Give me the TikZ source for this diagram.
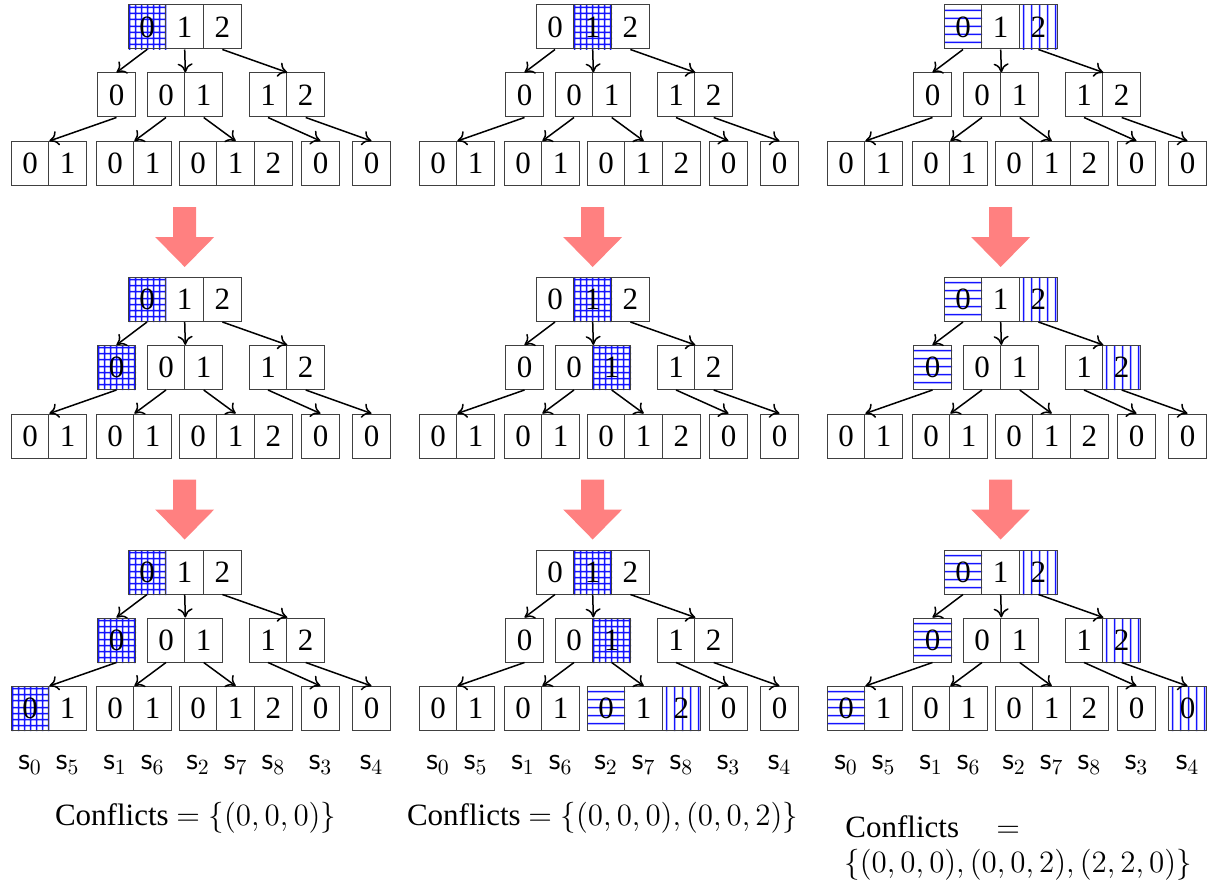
\RequirePackage{fix-cm}
\documentclass[tikz,border=0pt]{standalone}
\usepackage[no-math]{fontspec}
\setmainfont{Liberation Serif}
\usetikzlibrary{arrows.meta,calc}
\pgfdeclarelayer{background}
\pgfsetlayers{background,main}
\definecolor{hatchblue}{RGB}{20,20,255}

\tikzset{
  fs/.style={font=\fontsize{15.5}{18.5}\selectfont},
  cell/.style={draw=black!75, line width=0.5pt, minimum width=18.85pt, minimum height=22pt,
    inner sep=0pt, fs},
  edge/.style={-{To[length=4.5pt,width=7.5pt]}, line width=0.75pt, black},
  bigarrow/.style={fill=red!50, draw=none},
  slabel/.style={fs, inner sep=0pt},
  conf/.style={fs, inner sep=0pt},
  hatchfill/.style={fill=hatchblue, draw=none},
}

\newcommand\cellat[4]{\node[cell] (#1) at (#2,#3) {#4};}

% pixel box of a cell: \hL \hT \hR \hB
\newcommand\getcell[1]{%
  \path let \p1=(#1.north west), \p2=(#1.south east) in
  \pgfextra{\pgfmathtruncatemacro\tmpa{round(2*\x1)}\xdef\hL{\tmpa}%
            \pgfmathtruncatemacro\tmpa{round(-2*\y1)}\xdef\hT{\tmpa}%
            \pgfmathtruncatemacro\tmpa{round(2*\x2)}\xdef\hR{\tmpa}%
            \pgfmathtruncatemacro\tmpa{round(-2*\y2)}\xdef\hB{\tmpa}};}

% hatchings (thin filled strips), drawn under the cells
\newcommand\hgrid[1]{\getcell{#1}\begin{pgfonlayer}{background}
  \fill[hatchfill]
    \foreach \o in {1,7,13,19,25,31,37} {(\hL+\o-0.25,\hT) rectangle (\hL+\o+1.25,\hB)}
    \foreach \o in {2,8,14,21,27,33,39} {(\hL,\hT+\o-0.25) rectangle (\hR,\hT+\o+1.25)};
  \end{pgfonlayer}}
\newcommand\hhor[1]{\getcell{#1}\begin{pgfonlayer}{background}
  \fill[hatchfill]
    \foreach \o in {5,13,21,29,37} {(\hL,\hT+\o-0.25) rectangle (\hR,\hT+\o+1.25)};
  \end{pgfonlayer}}
\newcommand\hver[1]{\getcell{#1}\begin{pgfonlayer}{background}
  \fill[hatchfill]
    \foreach \o in {4,12,20,28,36} {(\hL+\o-0.25,\hT) rectangle (\hL+\o+1.25,\hB)};
  \end{pgfonlayer}}

\newcommand\drawtree[3]{%
\begin{scope}[shift={(#2,#3)}]
 \cellat{#1t0}{147}{27}{0}
 \cellat{#1t1}{184.7}{27}{1}
 \cellat{#1t2}{222.4}{27}{2}
 \cellat{#1m0}{116.5}{95}{0}
 \cellat{#1ma0}{166}{95}{0}
 \cellat{#1ma1}{203.7}{95}{1}
 \cellat{#1mb1}{268}{95}{1}
 \cellat{#1mb2}{305.7}{95}{2}
 \cellat{#1b00}{30}{163.5}{0}
 \cellat{#1b01}{67.7}{163.5}{1}
 \cellat{#1b10}{115}{163.5}{0}
 \cellat{#1b11}{152.7}{163.5}{1}
 \cellat{#1b20}{198}{163.5}{0}
 \cellat{#1b21}{235.7}{163.5}{1}
 \cellat{#1b22}{273.4}{163.5}{2}
 \cellat{#1b3}{320.5}{163.5}{0}
 \cellat{#1b4}{371.5}{163.5}{0}
 \draw[edge] (#1t0.south) -- (#1m0.north);
 \draw[edge] (#1t1.south) -- (#1ma0.north east);
 \draw[edge] (#1t2.south) -- (#1mb1.north east);
 \draw[edge] (#1m0.south) -- (#1b00.north east);
 \draw[edge] (#1ma0.south) -- (#1b10.north east);
 \draw[edge] (#1ma1.south) -- (#1b21.north);
 \draw[edge] (#1mb1.south) -- (#1b3.north);
 \draw[edge] (#1mb2.south) -- (#1b4.north);
\end{scope}}

\newcommand\bigdown[1]{%
 \fill[bigarrow] ($(#1)+(-11.5,180)$) -- ($(#1)+(11.5,180)$) -- ($(#1)+(11.5,210)$)
   -- ($(#1)+(29.5,210)$) -- ($(#1)+(0,240)$) -- ($(#1)+(-29.5,210)$)
   -- ($(#1)+(-11.5,210)$) -- cycle;}

\newcommand\slabels[1]{%
 \node[slabel] (#1s0) at ($(#1cb00)+(0,56.5)$) {$\mathsf{s}_0$};
 \node[slabel] (#1s5) at ($(#1cb01)+(0,56.5)$) {$\mathsf{s}_5$};
 \node[slabel] (#1s1) at ($(#1cb10)+(0,56.5)$) {$\mathsf{s}_1$};
 \node[slabel] (#1s6) at ($(#1cb11)+(0,56.5)$) {$\mathsf{s}_6$};
 \node[slabel] (#1s2) at ($(#1cb20)+(0,56.5)$) {$\mathsf{s}_2$};
 \node[slabel] (#1s7) at ($(#1cb21)+(0,56.5)$) {$\mathsf{s}_7$};
 \node[slabel] (#1s8) at ($(#1cb22)+(0,56.5)$) {$\mathsf{s}_8$};
 \node[slabel] (#1s3) at ($(#1cb3)+(0,56.5)$) {$\mathsf{s}_3$};
 \node[slabel] (#1s4) at ($(#1cb4)+(0,56.5)$) {$\mathsf{s}_4$};}

\begin{document}
\begin{tikzpicture}[x=0.5pt,y=-0.5pt]
\useasboundingbox (0,0) rectangle (1210,883);

\drawtree{p1a}{0}{0}
\drawtree{p1b}{0}{272.5}
\drawtree{p1c}{0}{545}
\drawtree{p2a}{408}{0}
\drawtree{p2b}{408}{272.5}
\drawtree{p2c}{408}{545}
\drawtree{p3a}{816}{0}
\drawtree{p3b}{816}{272.5}
\drawtree{p3c}{816}{545}

% panel 1
\hgrid{p1at0}
\hgrid{p1bt0} \hgrid{p1bm0}
\hgrid{p1ct0} \hgrid{p1cm0} \hgrid{p1cb00}
% panel 2
\hgrid{p2at1}
\hgrid{p2bt1} \hgrid{p2bma1}
\hgrid{p2ct1} \hgrid{p2cma1} \hhor{p2cb20} \hver{p2cb22}
% panel 3
\hhor{p3at0} \hver{p3at2}
\hhor{p3bt0} \hver{p3bt2} \hhor{p3bm0} \hver{p3bmb2}
\hhor{p3ct0} \hver{p3ct2} \hhor{p3cm0} \hver{p3cmb2} \hhor{p3cb00} \hver{p3cb4}

\bigdown{p1at1}
\bigdown{p1bt1}
\bigdown{p2at1}
\bigdown{p2bt1}
\bigdown{p3at1}
\bigdown{p3bt1}

\slabels{p1}
\slabels{p2}
\slabels{p3}

\node[conf, anchor=base] (conf1) at (195.5,825) {Conflicts $=\{(0,0,0)\}$};
\node[conf, anchor=base] (conf2) at (602.5,825) {Conflicts $=\{(0,0,0),(0,0,2)\}$};
\node[conf, anchor=base west] (conf3a) at (845,837) {Conflicts};
\node[conf, anchor=base west] (conf3b) at (996,837) {$=$};
\node[conf, anchor=base west] (conf3c) at (844,872) {$\{(0,0,0),(0,0,2),(2,2,0)\}$};
\end{tikzpicture}
\end{document}
